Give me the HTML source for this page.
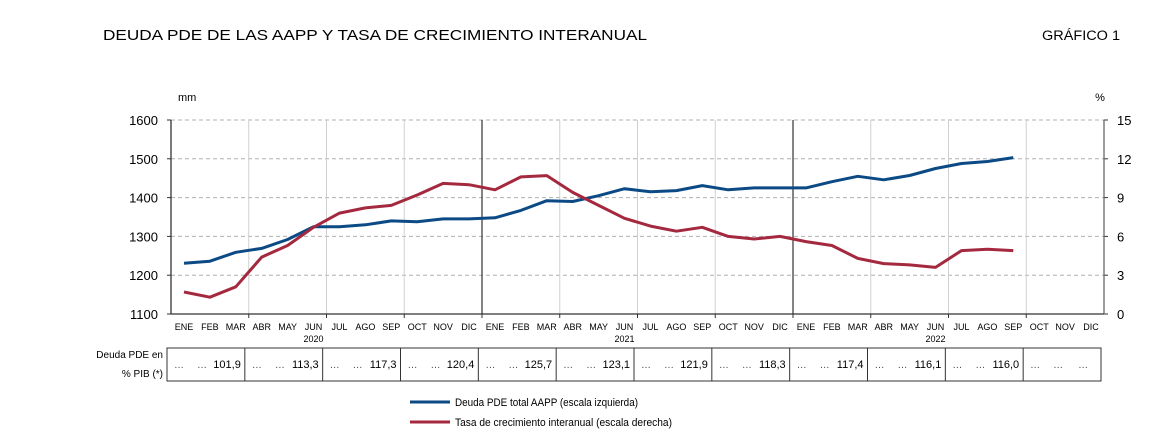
<!DOCTYPE html>
<html><head><meta charset="utf-8"><style>
body{margin:0;background:#fff;width:1158px;height:433px;overflow:hidden;font-family:"Liberation Sans",Arial,sans-serif}
svg{display:block}
</style></head><body>
<svg id="c" width="1158" height="433" font-family="Liberation Sans, Arial, sans-serif">
<text x="103" y="40" font-size="15" fill="#000" textLength="544" lengthAdjust="spacingAndGlyphs">DEUDA PDE DE LAS AAPP Y TASA DE CRECIMIENTO INTERANUAL</text>
<text x="1042" y="40" font-size="13.5" fill="#000" textLength="78" lengthAdjust="spacingAndGlyphs">GRÁFICO 1</text>
<text x="178" y="101" font-size="11" fill="#000">mm</text>
<text x="1100" y="101" font-size="11" text-anchor="middle" fill="#000">%</text>
<g id="g"></g>
<line x1="410" y1="402" x2="450" y2="402" stroke="#0c4a85" stroke-width="3"/>
<text x="455" y="406" font-size="11" fill="#000" textLength="183" lengthAdjust="spacingAndGlyphs">Deuda PDE total AAPP (escala izquierda)</text>
<line x1="410" y1="422" x2="450" y2="422" stroke="#a4293f" stroke-width="3"/>
<text x="455" y="426" font-size="11" fill="#000" textLength="217" lengthAdjust="spacingAndGlyphs">Tasa de crecimiento interanual (escala derecha)</text>
</svg>
<script>
const months=["ENE","FEB","MAR","ABR","MAY","JUN","JUL","AGO","SEP","OCT","NOV","DIC"];
const years=["2020","2021","2022"];
const debt=[1231,1236,1259,1269,1292,1325,1325,1330,1340,1338,1345,1345,1348,1367,1392,1390,1405,1423,1415,1418,1431,1420,1425,1425,1425,1441,1455,1446,1457,1475,1488,1493,1503];
const growth=[1.7,1.3,2.1,4.4,5.3,6.7,7.8,8.2,8.4,9.2,10.1,10.0,9.6,10.6,10.7,9.4,8.4,7.4,6.8,6.4,6.7,6.0,5.8,6.0,5.6,5.3,4.3,3.9,3.8,3.6,4.9,5.0,4.9];
const leftTicks=[1100,1200,1300,1400,1500,1600];
const rightTicks=[0,3,6,9,12,15];
const pibTable=["101,9","113,3","117,3","120,4","125,7","123,1","121,9","118,3","117,4","116,1","116,0",""];
const NS="http://www.w3.org/2000/svg";
const g=document.getElementById('g');
const X0=171,X1=1104,Y0=314,Y1=120,N=36;
const mw=(X1-X0)/N;
const xm=i=>X0+mw*(i+0.5);
const yl=v=>Y0-(v-1100)/500*(Y0-Y1);
const yr=v=>Y0-v/15*(Y0-Y1);
function mk(t,a,txt){const e=document.createElementNS(NS,t);for(const k in a)e.setAttribute(k,a[k]);if(txt!==undefined)e.textContent=txt;g.appendChild(e);return e;}
leftTicks.forEach((v,i)=>{
 if(i>0){const l=mk('line',{x1:X0,x2:X1,y1:yl(v),y2:yl(v),stroke:'#b0b0b0','stroke-dasharray':'4,3'});
 
 }
 const t=mk('text',{x:158,y:yl(v)+5,'font-size':13,'text-anchor':'end'},v);
 
 
 mk('line',{x1:X0-4,x2:X0,y1:yl(v),y2:yl(v),stroke:'#333'});
});
rightTicks.forEach(v=>{
 const t=mk('text',{x:1117,y:yr(v)+5,'font-size':13},v);
 
 
 mk('line',{x1:X1,x2:X1+4,y1:yr(v),y2:yr(v),stroke:'#333'});
});
for(let q=1;q<12;q++){
 const x=X0+q*3*mw;const yb=q%4===0;
 const l=mk('line',{x1:x,x2:x,y1:Y1,y2:Y0,stroke:yb?'#333':'#d0d0d0','stroke-width':yb?1.2:1});
 
 
 mk('line',{x1:x,x2:x,y1:Y0,y2:Y0+4,stroke:'#333'});
}
mk('line',{x1:X0,x2:X0,y1:Y1,y2:Y0,stroke:'#333','stroke-width':1.3});
mk('line',{x1:X1,x2:X1,y1:Y1,y2:Y0,stroke:'#666','stroke-width':1.3});
mk('line',{x1:X0,x2:X1,y1:Y0,y2:Y0,stroke:'#333','stroke-width':1.3});
for(let i=0;i<N;i++){
 const t=mk('text',{x:xm(i),y:330,'font-size':9,'text-anchor':'middle'},months[i%12]);
 
 
}
years.forEach((y,k)=>{const t=mk('text',{x:xm(k*12+5),y:342,'font-size':9,'text-anchor':'middle'},y);
 
 });
function line(arr,yf,col,name){
 const p=arr.map((v,i)=>xm(i).toFixed(1)+','+yf(v).toFixed(1)).join(' ');
 const l=mk('polyline',{points:p,fill:'none',stroke:col,'stroke-width':3,'stroke-linejoin':'round'});
 
 
}
line(debt,yl,'#0c4a85','debt-line');
line(growth,yr,'#a4293f','growth-line');
const TX0=167,TX1=1101,TY0=348,TY1=381,cw=(TX1-TX0)/12;
const tb=mk('rect',{x:TX0,y:TY0,width:TX1-TX0,height:TY1-TY0,fill:'none',stroke:'#333'});


for(let q=0;q<12;q++){
 const x=TX0+q*cw;
 if(q>0)mk('line',{x1:x,x2:x,y1:TY0,y2:TY1,stroke:'#333'});
 mk('text',{x:x+7,y:368,'font-size':10,fill:'#444'},'…');
 mk('text',{x:x+30,y:368,'font-size':10,fill:'#444'},'…');
 if(pibTable[q]){const t=mk('text',{x:x+cw-4,y:368,'font-size':11,'text-anchor':'end'},pibTable[q]);
  
  }
 else mk('text',{x:x+55,y:368,'font-size':10,fill:'#444'},'…');
}
const a=mk('text',{x:163,y:358,'font-size':10,'text-anchor':'end'},'Deuda PDE en');


mk('text',{x:163,y:377,'font-size':10,'text-anchor':'end'},'% PIB (*)');
</script>
</body></html>
